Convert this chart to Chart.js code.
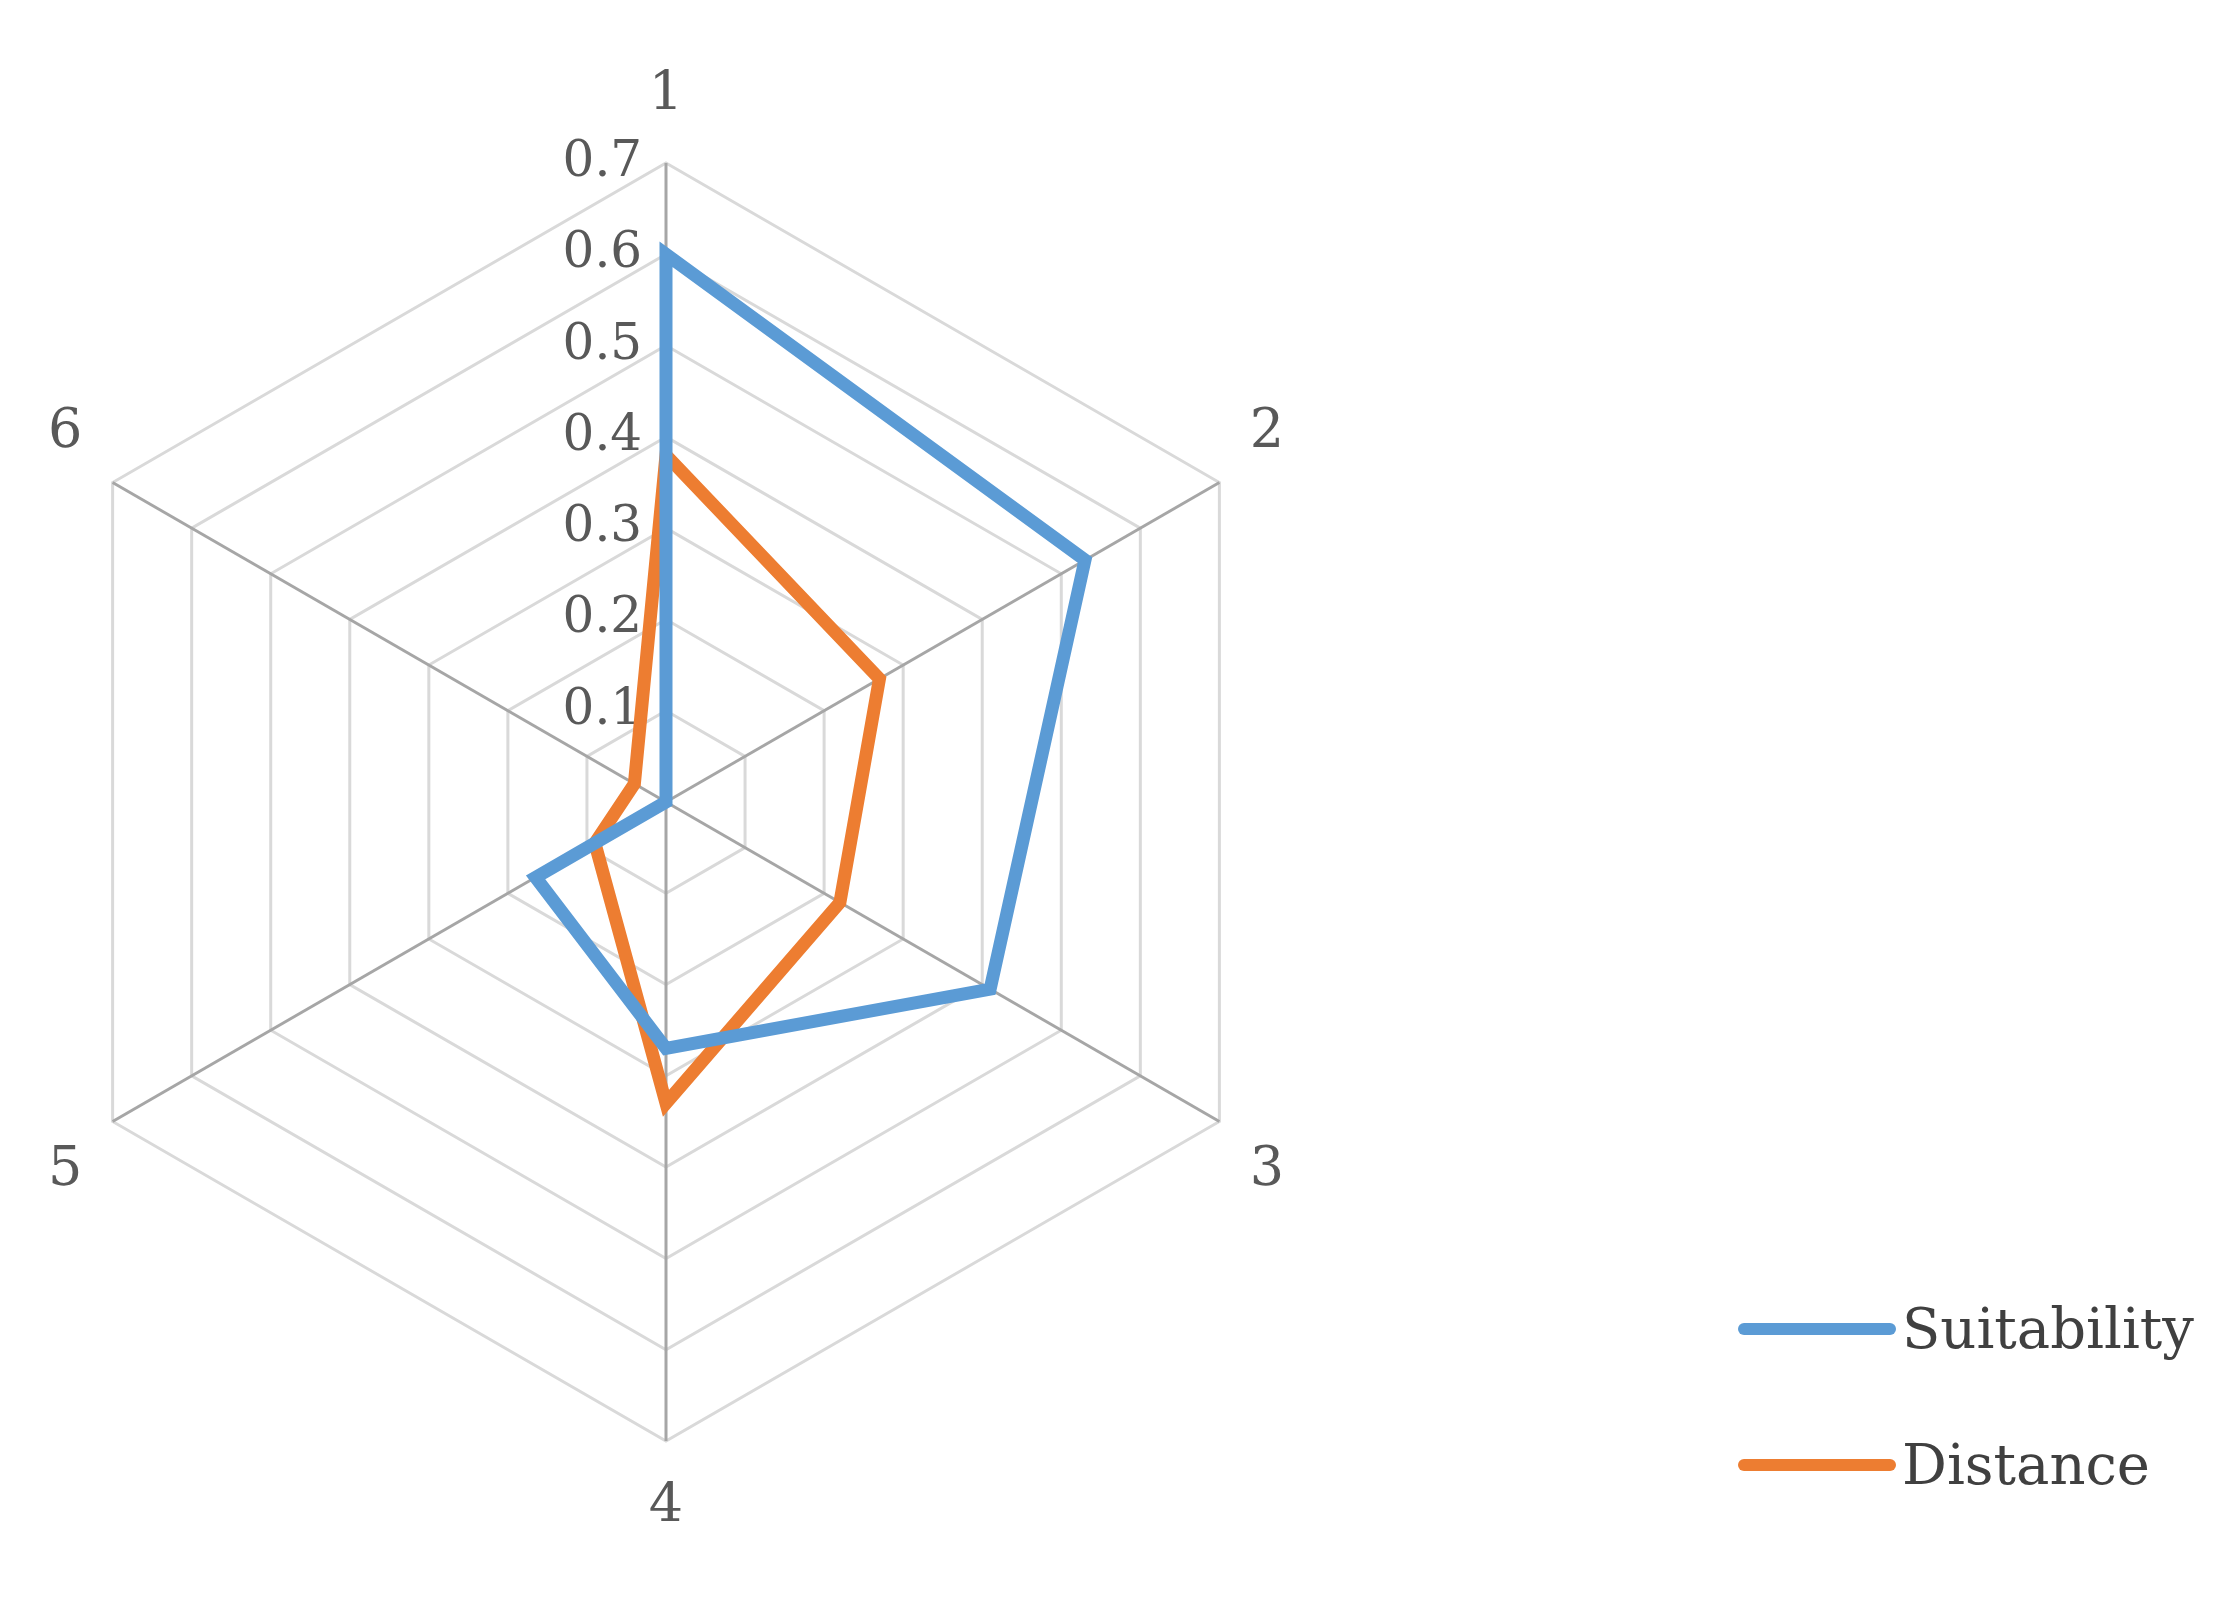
<!DOCTYPE html>
<html><head><meta charset="utf-8">
<script src="https://cdn.jsdelivr.net/npm/chart.js@4"></script>
<style>
body{margin:0;background:#fff;width:2236px;height:1605px;overflow:hidden;position:relative;font-family:"DejaVu Serif",serif;}
#wrap{position:absolute;left:0;top:0;width:1332px;height:1605px;}
.lg{position:absolute;left:1738px;display:flex;align-items:center;font-size:56px;color:#404040;font-family:"DejaVu Serif",serif;}
.lg span.l{display:inline-block;width:158px;height:12px;border-radius:6px;margin-right:6px;}
</style></head><body>
<div id="wrap"><canvas id="c"></canvas></div>
<div class="lg" style="top:1296px"><span class="l" style="background:#5b9bd5"></span>Suitability</div>
<div class="lg" style="top:1432px"><span class="l" style="background:#ed7d31"></span>Distance</div>
<script>
const categories=["1","2","3","4","5","6"];
const suitability=[0.6,0.53,0.41,0.27,0.165,0.0];
const distance=[0.38,0.27,0.22,0.33,0.09,0.04];
const ticks=[0,0.1,0.2,0.3,0.4,0.5,0.6,0.7];
new Chart(document.getElementById('c'),{type:'radar',
data:{labels:categories,datasets:[
{label:'Suitability',data:suitability,borderColor:'#5b9bd5',borderWidth:13,pointRadius:0,fill:false,borderJoinStyle:'miter'},
{label:'Distance',data:distance,borderColor:'#ed7d31',borderWidth:13,pointRadius:0,fill:false,borderJoinStyle:'miter'}]},
options:{responsive:true,maintainAspectRatio:false,animation:false,
layout:{padding:{left:0,right:0,top:-20,bottom:-20}},
plugins:{legend:{display:false},tooltip:{enabled:false}},
scales:{r:{min:0,max:0.7,
afterBuildTicks:s=>{s.ticks=ticks.map(v=>({value:v}));},
ticks:{showLabelBackdrop:false,color:'#595959',font:{family:'DejaVu Serif',size:50},callback:v=>String(v)+'\u2007\u2007\u2007\u2007'},
grid:{color:'#d9d9d9',lineWidth:3},
angleLines:{color:'#a6a6a6',lineWidth:3},
pointLabels:{color:'#595959',font:{family:'DejaVu Serif',size:54},padding:8}}}}});
</script></body></html>
